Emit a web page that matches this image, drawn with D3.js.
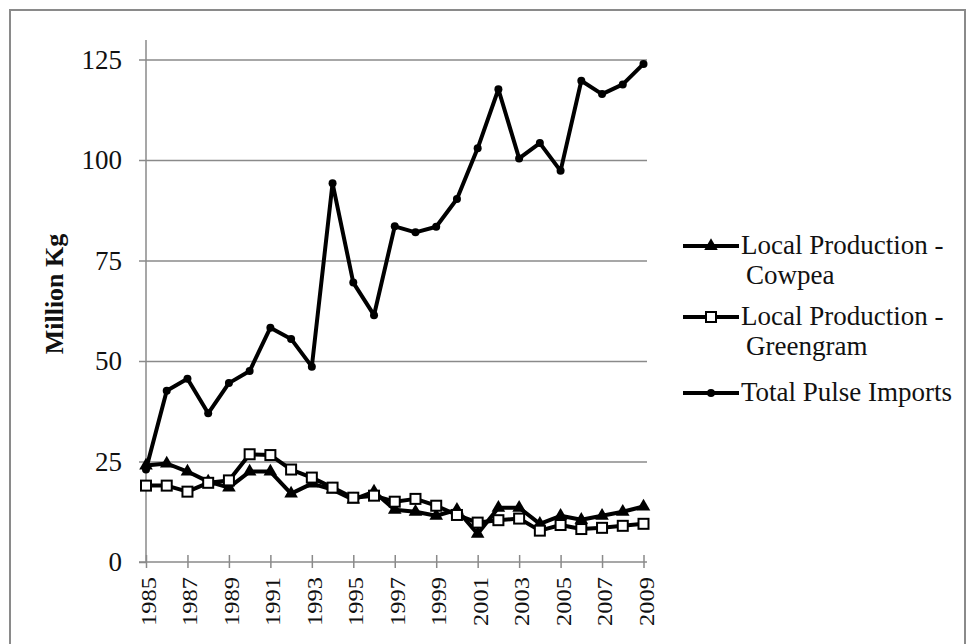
<!DOCTYPE html>
<html>
<head>
<meta charset="utf-8">
<script src="https://cdn.jsdelivr.net/npm/d3@7"></script>
<style>
  html, body { margin: 0; padding: 0; background: #fff; }
  svg { display: block; }
  text { font-family: "Liberation Serif", "Times New Roman", serif; fill: #111; }
</style>
</head>
<body>
<svg id="chart" width="969" height="644"></svg>
<script>
const years = [1985,1986,1987,1988,1989,1990,1991,1992,1993,1994,1995,1996,1997,1998,1999,2000,2001,2002,2003,2004,2005,2006,2007,2008,2009];
const cowpea = [24,24.5,22.5,20,18.5,22.5,22.5,17,19.5,18,15.5,17.5,13,12.5,11.5,13,7,13.5,13.5,9.5,11.5,10.5,11.5,12.5,13.8];
const greengram = [19,19,17.5,19.7,20.3,26.8,26.6,23,21,18.5,16,16.5,15,15.7,14,11.7,9.8,10.4,10.8,7.8,9.2,8.2,8.5,9,9.5];
const totalImports = [23,42.6,45.6,37,44.5,47.5,58.3,55.5,48.6,94.2,69.5,61.4,83.5,82,83.4,90.3,102.9,117.6,100.4,104.2,97.3,119.7,116.4,118.8,123.9];
const yTicks = [0,25,50,75,100,125];
const xTickYears = [1985,1987,1989,1991,1993,1995,1997,1999,2001,2003,2005,2007,2009];
const seriesNames = ["Local Production -|Cowpea", "Local Production -|Greengram", "Total Pulse Imports"];
const yTitle = "Million Kg";

const svg = d3.select("#chart");
const gray = "#8a8a8a";

// outer frame
svg.append("rect").attr("x", 10).attr("y", 10).attr("width", 955).attr("height", 660)
  .attr("fill", "none").attr("stroke", gray).attr("stroke-width", 2);

const plotLeft = 146, plotRight = 647, plotTop = 40, plotBottom = 562;
const x = d3.scaleLinear().domain([1985, 2009]).range([plotLeft, 643.5]);
const y = d3.scaleLinear().domain([0, 125]).range([plotBottom, 59.5]);

// gridlines
const grid = svg.append("g").attr("transform", `translate(${plotLeft},0)`)
  .call(d3.axisRight(y).tickValues(yTicks.filter(v => v > 0)).tickSize(plotRight - plotLeft).tickFormat(""));
grid.select(".domain").remove();
grid.selectAll("line").attr("stroke", gray).attr("stroke-width", 1.5);

// y axis
const yAxis = svg.append("g").attr("transform", `translate(${plotLeft},0)`)
  .call(d3.axisLeft(y).tickValues(yTicks).tickSize(7).tickPadding(17));
yAxis.select(".domain").remove();
yAxis.selectAll("line").attr("stroke", gray).attr("stroke-width", 1.5);
yAxis.selectAll("text").attr("font-size", 27).attr("font-family", "Liberation Serif").attr("fill", "#111");
svg.append("line").attr("x1", plotLeft).attr("x2", plotLeft).attr("y1", plotTop).attr("y2", plotBottom)
  .attr("stroke", gray).attr("stroke-width", 1.5);

// x axis
const xAxis = svg.append("g").attr("transform", `translate(0,${plotBottom})`)
  .call(d3.axisBottom(x).tickValues(xTickYears).tickSize(6).tickFormat(""));
xAxis.select(".domain").remove();
xAxis.selectAll("line").attr("y1", -7).attr("y2", 6).attr("stroke", gray).attr("stroke-width", 1.5);
svg.append("line").attr("x1", 139).attr("x2", plotRight).attr("y1", plotBottom).attr("y2", plotBottom)
  .attr("stroke", gray).attr("stroke-width", 1.5);
svg.append("g").selectAll("text").data(xTickYears).join("text")
  .attr("transform", d => `translate(${x(d) + 3},577) rotate(-90)`)
  .attr("text-anchor", "end").attr("dominant-baseline", "central")
  .attr("font-size", 21).attr("textLength", 49).attr("lengthAdjust", "spacingAndGlyphs")
  .text(d => d);

// y title
svg.append("text").attr("transform", "translate(54,294) rotate(-90)")
  .attr("text-anchor", "middle").attr("dominant-baseline", "central")
  .attr("font-size", 26).attr("font-weight", "bold").text(yTitle);

const line = d3.line().x((d, i) => x(years[i])).y(d => y(d));
const tri = d3.symbol().type(d3.symbolTriangle).size(80);

// cowpea
svg.append("path").datum(cowpea).attr("d", line).attr("fill", "none").attr("stroke", "#000")
  .attr("stroke-width", 4).attr("stroke-linejoin", "round");
svg.append("g").selectAll("path").data(cowpea).join("path")
  .attr("d", tri).attr("transform", (d, i) => `translate(${x(years[i])},${y(d)})`).attr("fill", "#000");

// greengram
svg.append("path").datum(greengram).attr("d", line).attr("fill", "none").attr("stroke", "#000")
  .attr("stroke-width", 4).attr("stroke-linejoin", "round");
svg.append("g").selectAll("rect").data(greengram).join("rect")
  .attr("x", (d, i) => x(years[i]) - 5).attr("y", d => y(d) - 5).attr("width", 10).attr("height", 10)
  .attr("fill", "#fff").attr("stroke", "#000").attr("stroke-width", 2);

// total imports
svg.append("path").datum(totalImports).attr("d", line).attr("fill", "none").attr("stroke", "#000")
  .attr("stroke-width", 4).attr("stroke-linejoin", "round");
svg.append("g").selectAll("circle").data(totalImports).join("circle")
  .attr("cx", (d, i) => x(years[i])).attr("cy", d => y(d)).attr("r", 4).attr("fill", "#000");

// legend
const legendY = [246, 317, 393];
const lg = svg.append("g");
seriesNames.forEach((name, k) => {
  const ly = legendY[k];
  lg.append("line").attr("x1", 683).attr("x2", 739).attr("y1", ly).attr("y2", ly)
    .attr("stroke", "#000").attr("stroke-width", 4);
  if (k === 0) {
    lg.append("path").attr("d", tri).attr("transform", `translate(711,${ly})`).attr("fill", "#000");
  } else if (k === 1) {
    lg.append("rect").attr("x", 706).attr("y", ly - 5).attr("width", 10).attr("height", 10)
      .attr("fill", "#fff").attr("stroke", "#000").attr("stroke-width", 2);
  } else {
    lg.append("circle").attr("cx", 711).attr("cy", ly).attr("r", 4).attr("fill", "#000");
  }
  const parts = name.split("|");
  parts.forEach((p, j) => {
    lg.append("text").attr("x", j === 0 ? 741 : 746).attr("y", ly + 8 + j * 30)
      .attr("font-size", 27).text(p);
  });
});
</script>
</body>
</html>
